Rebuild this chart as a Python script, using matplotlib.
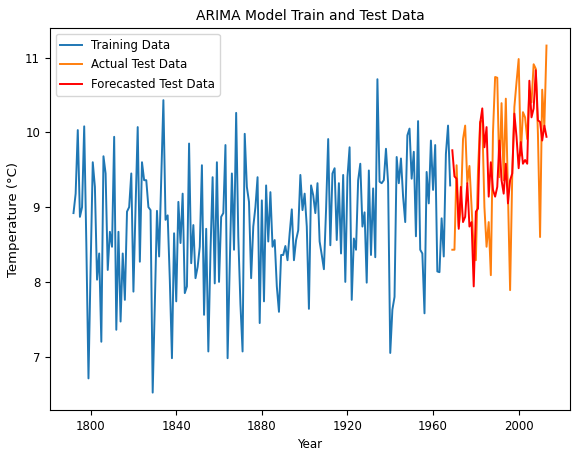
import numpy as np
import matplotlib
matplotlib.use('Agg')
import matplotlib.pyplot as plt

# annual mean temperature, training part (1792-1968)
train_values = [
    8.92, 9.18, 10.03, 8.87, 9.00, 10.08, 8.50, 6.71, 8.20,
    9.60, 9.27, 8.03, 8.38, 7.20, 9.68, 9.45, 8.16, 8.67, 8.47,
    9.94, 7.36, 8.67, 7.47, 8.38, 7.76, 8.94, 9.00, 9.45, 7.87,
    9.00, 10.07, 8.27, 9.60, 9.36, 9.36, 9.00, 8.96, 6.52, 7.70,
    8.95, 8.34, 9.36, 10.43, 8.83, 8.89, 8.03, 6.98, 8.65, 7.74,
    9.07, 8.52, 9.18, 7.85, 7.94, 9.85, 8.25, 8.76, 8.05, 8.20,
    8.47, 9.56, 7.56, 8.71, 7.07, 8.40, 9.40, 7.98, 9.60, 8.00,
    8.87, 8.92, 9.83, 6.98, 8.20, 9.45, 8.43, 10.26, 8.60, 7.70,
    7.07, 9.98, 9.27, 9.07, 8.05, 8.74, 9.00, 9.40, 7.45, 9.09,
    7.74, 9.29, 8.54, 9.20, 8.47, 8.56, 7.94, 7.60, 8.36, 8.36,
    8.48, 8.29, 8.65, 8.97, 8.29, 8.56, 8.69, 9.43, 8.96, 9.18,
    8.74, 7.64, 9.29, 9.16, 8.92, 9.32, 8.54, 8.36, 8.17, 8.96,
    9.91, 8.49, 9.45, 9.52, 8.56, 9.32, 8.38, 9.43, 8.00, 9.40,
    9.80, 7.76, 8.58, 8.43, 9.36, 9.58, 8.74, 8.93, 7.99, 9.49,
    8.36, 9.25, 8.33, 10.71, 9.34, 9.32, 9.36, 9.78, 9.32, 7.05,
    7.63, 7.80, 9.67, 9.32, 9.65, 9.14, 8.80, 9.96, 10.05, 9.38,
    9.74, 8.61, 10.15, 8.43, 8.38, 7.58, 9.47, 9.05, 9.89, 9.23,
    9.83, 8.14, 8.13, 8.85, 8.34, 9.71, 10.09, 9.29,
]

# actual test values (1969-2013)
test_values = [
    8.43, 8.43, 9.56, 8.74, 9.00, 9.91, 10.09, 9.32, 9.55, 9.00,
    8.43, 8.29, 9.49, 10.14, 10.16, 9.00, 8.47, 8.80, 8.09, 10.00,
    10.74, 10.73, 9.40, 10.39, 9.36, 10.45, 9.18, 7.89, 9.43, 10.34,
    10.67, 10.98, 9.69, 10.27, 10.20, 9.91, 10.56, 10.40, 10.91, 10.85,
    9.98, 8.60, 10.57, 10.08, 11.16,
]

# forecasted test values (1969-2013)
forecast_values = [
    9.76, 9.41, 9.38, 8.71, 9.27, 8.80, 8.87, 9.32, 8.74, 8.80,
    7.94, 8.94, 8.98, 10.12, 10.32, 9.80, 10.07, 9.14, 9.60, 9.23,
    9.14, 9.27, 9.89, 9.36, 9.18, 9.58, 9.05, 9.36, 9.45, 10.25,
    9.94, 9.52, 9.87, 9.58, 9.63, 9.58, 10.69, 10.20, 10.32, 10.83,
    10.16, 10.14, 9.89, 10.09, 9.94,
]

start_year = 1792
train_years = np.arange(start_year, start_year + len(train_values))
test_start = train_years[-1] + 1
test_years = np.arange(test_start, test_start + len(test_values))

fig = plt.figure(figsize=(5.73, 4.55), dpi=100)
ax = fig.add_axes([0.087, 0.099, 0.908, 0.839])

ax.plot(train_years, train_values, color='tab:blue', lw=1.4, label='Training Data')
ax.plot(test_years, test_values, color='tab:orange', lw=1.4, label='Actual Test Data')
ax.plot(test_years, forecast_values, color='red', lw=1.4, label='Forecasted Test Data')

ax.set_title('ARIMA Model Train and Test Data', fontsize=10)
ax.set_xlabel('Year', fontsize=8.5)
ax.set_ylabel('Temperature (°C)', fontsize=9.5)
ax.set_xticks([1800, 1840, 1880, 1920, 1960, 2000])
ax.set_yticks([7, 8, 9, 10, 11])
ax.tick_params(labelsize=8.5)
ax.legend(loc='upper left', fontsize=8.5, handlelength=1.8, labelspacing=0.55)

fig.savefig('out.png', dpi=100)
